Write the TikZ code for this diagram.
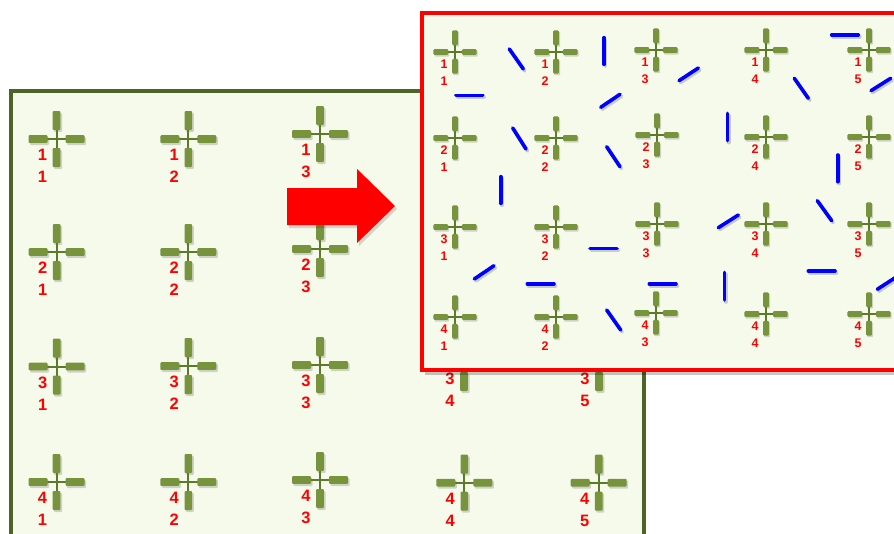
\documentclass[tikz,border=0pt]{standalone}
\usepackage{fontspec}
\setmainfont{Liberation Sans}
\definecolor{armgreen}{HTML}{77933C}
\definecolor{armdark}{HTML}{5C7A2A}
\definecolor{panelgreen}{HTML}{4F6228}
\definecolor{panelbg}{HTML}{F6FAEB}
\definecolor{pured}{HTML}{FF0000}
\definecolor{segblue}{HTML}{0000FF}
\tikzset{
  antenna/.pic={
    \fill[black,opacity=0.16,rounded corners=1]
      (10.5,-2) rectangle (29.5,6) (-7.5,-2) rectangle (-26.5,6)
      (-2.5,11) rectangle (5.5,30) (-2.5,-7) rectangle (5.5,-26);
    \draw[armdark,line width=2] (-10,0)--(10,0) (0,-10)--(0,10);
    \fill[armgreen,rounded corners=1]
      (9,-3.8) rectangle (28,3.8) (-9,-3.8) rectangle (-28,3.8)
      (-3.8,9) rectangle (3.8,28) (-3.8,-9) rectangle (3.8,-28);
  },
  lblL/.style={text=pured,font=\fontsize{16.5}{16.5}\selectfont\bfseries,inner sep=0pt},
  lblR/.style={text=pured,font=\fontsize{12.5}{12.5}\selectfont\bfseries,inner sep=0pt},
  seg/.style={segblue,line width=3.6,line cap=round},
  segshadow/.style={black,opacity=0.18,line width=3.6,line cap=round},
}
\begin{document}
\begin{tikzpicture}[x=1pt,y=-1pt]
\useasboundingbox (0,0) rectangle (894,533);
\clip (0,0) rectangle (894,533);
\fill[white] (0,0) rectangle (894,533);
% left panel
\fill[black,opacity=0.12] (13,93) rectangle (646,560);
\draw[panelgreen,line width=4,fill=panelbg] (11,90.5) rectangle (643.5,550);
% left crosses
\foreach \r/\c/\x/\y in {1/1/56.5/139,1/2/188.3/139,1/3/320/134,
  2/1/56.7/252,2/2/188.3/252,2/3/320/249,
  3/1/56.7/366.5,3/2/188.3/366,3/3/320/365,3/4/464/363,3/5/599/363,
  4/1/56.5/482,4/2/188.3/482,4/3/320/480,4/4/464.3/482.7,4/5/598.7/482.7}{
  \pic at (\x,\y) {antenna};
  \node[lblL] (L\r\c a) at (\x-14,\y+16) {\r};
  \node[lblL] (L\r\c b) at (\x-14,\y+38) {\c};
}
% arrow
\fill[black,opacity=0.15] (289,191)--(359,191)--(359,172)--(397,209)--(359,246)--(359,228)--(289,228)--cycle;
\fill[pured] (287,188)--(357,188)--(357,169)--(395,206)--(357,243)--(357,225)--(287,225)--cycle;
% right panel
\fill[black,opacity=0.22] (425,17) rectangle (900,375);
\draw[pured,line width=4.5,fill=panelbg] (422,13) rectangle (900,370);
\foreach \r/\c/\x/\y in {1/1/455/52,1/2/556/52,1/3/656/50,1/4/766/50,1/5/869/50,
  2/1/455/138,2/2/556/138,2/3/657/135,2/4/766/137,2/5/869/137,
  3/1/455/227,3/2/556/227,3/3/657/224,3/4/766/224,3/5/869/224,
  4/1/455/317,4/2/556/317,4/3/656/313,4/4/766/314,4/5/869/314}{
  \pic[scale=0.77] at (\x,\y) {antenna};
  \node[lblR] (R\r\c a) at (\x-11,\y+12) {\r};
  \node[lblR] (R\r\c b) at (\x-11,\y+29.5) {\c};
}
% blue segments
\foreach \ax/\ay/\bx/\by in {509.3/49/523.3/69, 604/37.7/604/64.3, 456/95.3/482.7/95.3,
  600.7/107.3/620/94.3, 679/80.7/698.3/68, 831.7/35/858.3/35, 794.3/78.3/808.3/98.3,
  871/90.7/890.7/78.3, 727.3/113.3/727.3/140.7, 512.7/128/526/149, 606.7/146.7/620/166.7,
  500.7/176.7/500.7/203.3, 590/248.5/617/248.5, 837.7/155/837.7/181.7,
  817.3/200.7/831.7/220.7, 718.3/227.7/738.3/215, 474.3/279/494/265.7,
  527.3/283.7/554/283.7, 606.7/310/620.7/330, 649.3/283.7/676/283.7,
  724.3/272.3/724.3/300, 808.3/271/835/271, 877.3/289.3/897/276.5}{
  \draw[segshadow] (\ax+1.5,\ay+2) -- (\bx+1.5,\by+2);
  \draw[seg] (\ax,\ay) -- (\bx,\by);
}
\end{tikzpicture}
\end{document}
